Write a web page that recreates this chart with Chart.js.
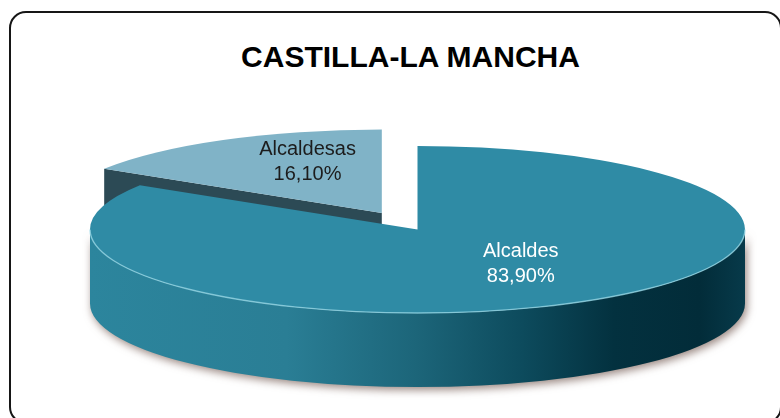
<!DOCTYPE html>
<html>
<head>
<meta charset="utf-8">
<script src="https://cdn.jsdelivr.net/npm/chart.js@4/dist/chart.umd.min.js"></script>
<style>
html,body{margin:0;padding:0;background:#fff;width:780px;height:418px;overflow:hidden;}
#wrap{position:relative;width:780px;height:418px;}
#frame{position:absolute;left:9px;top:11px;width:773px;height:413px;box-sizing:border-box;border:2px solid #161616;border-radius:17px;}
#title{position:absolute;left:0;top:41.5px;width:821px;text-align:center;font:bold 30px "Liberation Sans",Arial,sans-serif;line-height:30px;color:#000;white-space:nowrap;}
canvas{position:absolute;left:0;top:0;}
</style>
</head>
<body>
<div id="wrap">
  <div id="frame"></div>
  <div id="title">CASTILLA-LA MANCHA</div>
  <canvas id="c" width="780" height="418"></canvas>
</div>
<script>
// ---- data ----
const categories = ['Alcaldes', 'Alcaldesas'];
const shares = [83.9, 16.1];
const chartTitle = 'CASTILLA-LA MANCHA';

function fmtPct(v) { return v.toFixed(2).replace('.', ',') + '%'; }

// ---- 3D pie drawing plugin (draws the library's own arc elements in projection) ----
const pie3d = {
  id: 'pie3d',
  beforeDatasetsDraw(chart, args, opts) {
    const ctx = chart.ctx;
    const area = chart.chartArea;
    const meta = chart.getDatasetMeta(0);
    const ds = chart.data.datasets[0];
    const arcs = meta.data;
    if (!arcs.length) return false;
    const R = arcs[0].outerRadius;
    const sx = (area.width / 2) / R, sy = (area.height / 2) / R;
    const depth = opts.depth;

    const items = arcs.map((arc, i) => {
      const mid = (arc.startAngle + arc.endAngle) / 2;
      const ex = Math.cos(mid) * (opts.explode[i] || 0) * R;
      const ey = Math.sin(mid) * (opts.explode[i] || 0) * R;
      return {arc, i, mid, cx: arc.x + ex * sx, cy: arc.y + ey * sy, rx: R * sx, ry: R * sy,
              s: arc.startAngle, e: arc.endAngle};
    });
    chart.$pie3d = {items, sx, sy, R};
    const order = items.slice().sort((a, b) => Math.sin(a.mid) - Math.sin(b.mid));

    ctx.save();
    order.forEach(it => {
      const {cx, cy, rx, ry, s, e, i} = it;
      // radial walls
      const walls = [];
      if (Math.cos(s) < -1e-6) walls.push(s);
      if (Math.cos(e) > 1e-6) walls.push(e);
      walls.forEach(a => {
        const px = cx + rx * Math.cos(a), py = cy + ry * Math.sin(a);
        ctx.beginPath();
        ctx.moveTo(cx, cy);
        ctx.lineTo(px, py);
        ctx.lineTo(px, py + depth);
        ctx.lineTo(cx, cy + depth);
        ctx.closePath();
        ctx.fillStyle = opts.wallColors[i];
        ctx.fill();
      });
      // front side wall
      [0, -2 * Math.PI, 2 * Math.PI].forEach(k => {
        const a0 = Math.max(s, 0 + k), a1 = Math.min(e, Math.PI + k);
        if (a1 - a0 <= 1e-6) return;
        const g = ctx.createLinearGradient(cx - rx, 0, cx + rx, 0);
        opts.sideStops[i].forEach(st => g.addColorStop(st[0], st[1]));
        ctx.save();
        ctx.shadowColor = opts.shadowColor;
        ctx.shadowBlur = 9;
        ctx.shadowOffsetX = 2;
        ctx.shadowOffsetY = 3;
        ctx.beginPath();
        ctx.ellipse(cx, cy, rx, ry, 0, a0, a1, false);
        ctx.lineTo(cx + rx * Math.cos(a1), cy + ry * Math.sin(a1) + depth);
        ctx.ellipse(cx, cy + depth, rx, ry, 0, a1, a0, true);
        ctx.closePath();
        ctx.fillStyle = g;
        ctx.fill();
        ctx.restore();
        it.rim = [a0, a1];
      });
      // top face
      ctx.beginPath();
      ctx.moveTo(cx, cy);
      ctx.ellipse(cx, cy, rx, ry, 0, s, e, false);
      ctx.closePath();
      ctx.fillStyle = ds.backgroundColor[i];
      ctx.fill();
      if (it.rim) {
        ctx.beginPath();
        ctx.ellipse(cx, cy, rx, ry, 0, it.rim[0], it.rim[1], false);
        ctx.strokeStyle = opts.rimColor;
        ctx.lineWidth = 1.4;
        ctx.stroke();
      }
    });
    ctx.restore();
    return false;
  },
  afterDraw(chart, args, opts) {
    const st = chart.$pie3d;
    if (!st) return;
    const ctx = chart.ctx;
    ctx.save();
    ctx.font = opts.labelFont;
    ctx.textAlign = 'center';
    ctx.textBaseline = 'middle';
    st.items.forEach(it => {
      const f = 0.55;
      const x = it.cx + Math.cos(it.mid) * it.rx * f + opts.labelNudge[it.i][0];
      const y = it.cy + Math.sin(it.mid) * it.ry * f + opts.labelNudge[it.i][1];
      ctx.fillStyle = opts.labelColors[it.i];
      ctx.fillText(chart.data.labels[it.i], x, y - 12.5);
      ctx.fillText(fmtPct(chart.data.datasets[0].data[it.i]), x, y + 12.5);
    });
    ctx.restore();
  }
};

document.getElementById('title').textContent = chartTitle;

new Chart(document.getElementById('c'), {
  type: 'pie',
  data: {
    labels: categories,
    datasets: [{
      data: shares,
      backgroundColor: ['#2f8ba5', '#80b3c7'],
      borderWidth: 0
    }]
  },
  options: {
    responsive: false,
    animation: false,
    events: [],
    layout: {padding: {left: 90, right: 35, top: 146, bottom: 105}},
    plugins: {
      legend: {display: false},
      tooltip: {enabled: false},
      title: {display: false},
      pie3d: {
        depth: 74,
        explode: [0, 0.225],
        wallColors: ['#1f5f72', '#2c4a55'],
        sideStops: [
          [[0, '#2c859d'], [0.3, '#2a7e95'], [0.5, '#1c6579'], [0.66, '#0d4b5d'], [0.8, '#03313f'], [0.93, '#022c39'], [1, '#073a4a']],
          [[0, '#6b9fb2'], [1, '#3d6b7a']]
        ],
        shadowColor: 'rgba(85,55,45,0.6)',
        rimColor: 'rgba(150,215,230,0.75)',
        labelFont: '20px "Liberation Sans", Arial, sans-serif',
        labelColors: ['#ffffff', '#1c1c1c'],
        labelNudge: [[16, -6], [13, -11]]
      }
    }
  },
  plugins: [pie3d]
});
</script>
</body>
</html>
